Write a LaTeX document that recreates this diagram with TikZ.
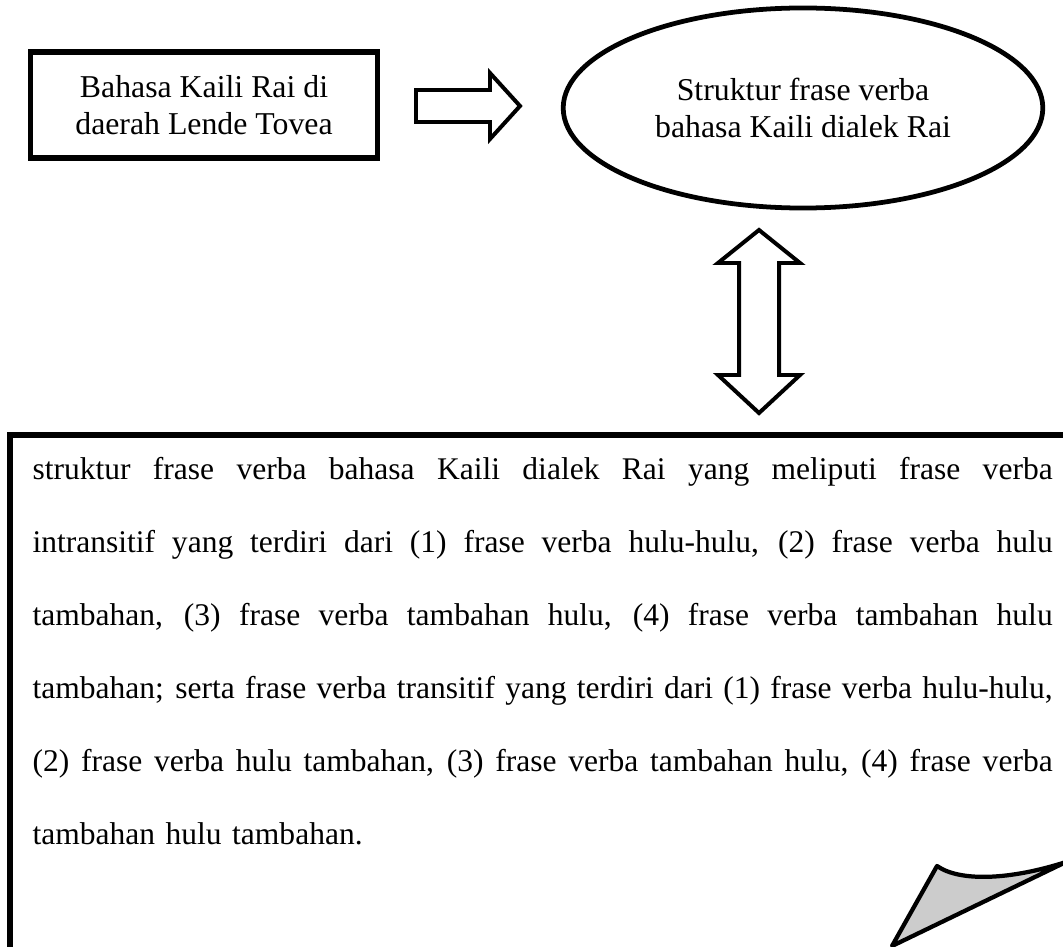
\documentclass[tikz,border=0pt]{standalone}
\usepackage{fontspec}
\setmainfont{Liberation Serif}
\usetikzlibrary{shapes.geometric}
\newcommand\jline[1]{\noindent\hbox to 385pt{\spaceskip=.25em plus 1fil\xspaceskip=.25em plus 1fil\relax #1}\par}
\begin{document}
\begin{tikzpicture}[x=0.3774pt,y=-0.3774pt,
  txtfont/.style={font=\fontsize{12}{14}\selectfont},
  boxnode/.style={draw, line width=2.1pt, minimum width=131pt, minimum height=40pt, align=center, inner sep=0pt, txtfont},
  ellnode/.style={draw, ellipse, line width=1.8pt, minimum width=181pt, minimum height=75.5pt, align=center, inner sep=0pt, txtfont},
  blockarrow/.style={draw, line width=1.5pt, line join=miter, fill=white},
  framebox/.style={draw, line width=2.1pt},
  curl/.style={draw, line width=1.6pt, fill=black!20, line join=round}
]
\clip (0,0) rectangle (1063,946);
\fill[white] (0,0) rectangle (1063,946);

\node[boxnode] (src) at (204,105) {Bahasa Kaili Rai di\\daerah Lende Tovea};
\node[ellnode] (goal) at (803,108) {Struktur frase verba\\bahasa Kaili dialek Rai};

% block arrow right
\draw[blockarrow] (416,90) -- (490,90) -- (490,73) -- (520,106) -- (490,139) -- (490,122) -- (416,122) -- cycle;

% double block arrow
\coordinate (da) at (759,230);
\draw[blockarrow] (da) -- (800,263) -- (779,263) -- (779,375) -- (800,375) -- (759,413) -- (718,375) -- (739,375) -- (739,263) -- (718,263) -- cycle;

% frame
\draw[framebox] (10,1000) -- (10,435) -- (1100,435);

\node[anchor=north west, text width=385pt, inner sep=0pt, align=left, font=\fontsize{11.9}{27.5}\selectfont] (txt) at (32,457) {%
\parskip=0pt
\jline{struktur frase verba bahasa Kaili dialek Rai yang meliputi frase verba}
\jline{intransitif yang terdiri dari (1) frase verba hulu-hulu, (2) frase verba hulu}
\jline{tambahan, (3) frase verba tambahan hulu, (4) frase verba tambahan hulu}
\jline{tambahan; serta frase verba transitif yang terdiri dari (1) frase verba hulu-hulu,}
\jline{(2) frase verba hulu tambahan, (3) frase verba tambahan hulu, (4) frase verba}
\noindent tambahan hulu tambahan.};

% page curl
\draw[curl] (937,866) .. controls (960,882) and (1010,880) .. (1066,862) -- (892,946) -- cycle;
\end{tikzpicture}
\end{document}
